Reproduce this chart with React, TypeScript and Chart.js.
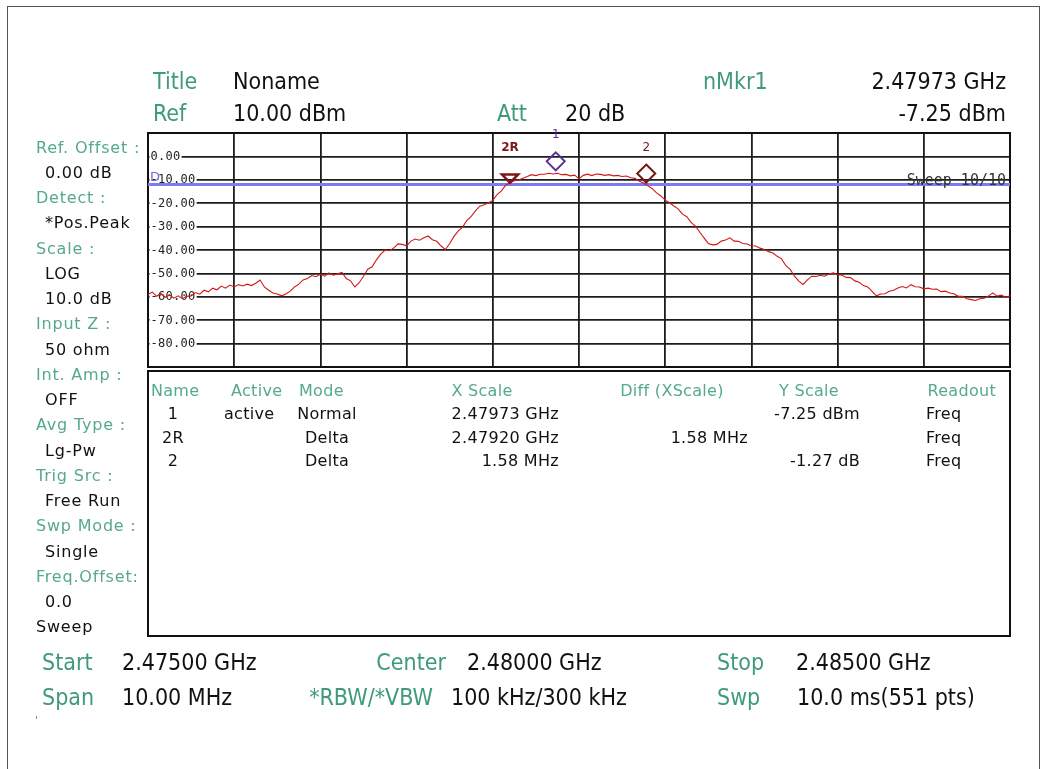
import React, { useEffect, useRef } from "react";
import { Chart, registerables } from "chart.js";

Chart.register(...registerables);

// ---------- chart data ----------
const START_MHZ = 2475;
const STOP_MHZ = 2485;
const STEP_MHZ = 0.05;
const REF_LEVEL_DBM = 10;
const BOTTOM_DBM = -90;
const DISPLAY_LINE_DBM = -12;

// trace levels (dBm) read every 0.05 MHz from 2475.00 to 2485.00 MHz
const TRACE_DBM = [
  -59, -58, -59.8, -58.6, -60.2, -59.2, -60.6, -59.6, -60.8, -59.8, -59.6, -58.2, -58.9, -57.2, -57.9, -56.3, -57, -55.4, -56.3, -55, -55.8,
  -54.8, -55.4, -54.6, -55.2, -54.2, -52.8, -55.8, -57.2, -58.4, -58.8, -59.6, -58.8, -57.6, -55.8, -54.6, -52.8, -52.2, -50.9, -51.4, -50.4,
  -51.2, -49.8, -50.8, -50.2, -49.6, -52.2, -53.2, -55.8, -54, -51.2, -48.2, -47.2, -44.2, -41.8, -40, -40.3, -39.2, -37.4, -37.6, -38.2,
  -36.2, -35.3, -35.8, -34.8, -34, -35.6, -36.3, -38.3, -39.8, -37.2, -34.2, -31.8, -30.2, -27.3, -25.6, -23.2, -21.3, -20.7, -19.8, -18.8,
  -16.3, -14.7, -12.3, -11.2, -10.4, -10.1, -9.3, -8.6, -7.8, -8.2, -7.6, -7.6, -7.2, -7.5, -7.2, -7.8, -7.7, -8.3, -8.0, -9.6,
  -8.1, -7.6, -8.2, -7.5, -7.7, -8.1, -7.8, -8.3, -8.1, -8.6, -8.4, -9.1, -9.4, -10.6, -11.4, -12.6, -13.8, -15.6, -16.9, -18.7,
  -19.8, -21.2, -22.4, -24.7, -25.8, -28.2, -29.8, -32.3, -34.8, -37.2, -37.8, -37.6, -36.2, -35.7, -34.8, -36.2, -36.3, -37.2, -37.4, -38.2,
  -38.3, -39.2, -39.8, -40.7, -41.3, -42.7, -43.8, -46.7, -48.3, -51.2, -53.3, -54.7, -52.8, -51.2, -51.3, -50.8, -51.2, -50.3, -49.8, -50.6,
  -50.8, -51.7, -51.8, -53.2, -53.8, -55.2, -55.8, -57.7, -59.6, -58.8, -58.7, -57.6, -57.2, -56.2, -55.6, -56.2, -54.8, -55.7, -55.8, -56.6,
  -56.3, -56.8, -56.7, -57.8, -57.6, -58.4, -58.7, -59.8, -59.8, -60.8, -61.2, -61.6, -60.8, -60.6, -59.7, -58.3, -59.7, -59.3, -60.2, -59.6,
];

const Y_TICK_VALUES = [0, -10, -20, -30, -40, -50, -60, -70, -80];
const Y_TICK_LABELS = ["0.00", "-10.00", "-20.00", "-30.00", "-40.00", "-50.00", "-60.00", "-70.00", "-80.00"];

const MARKER_NAMES = ["1", "2R", "2"];
const MARKER_FREQ_MHZ = [2479.73, 2479.2, 2480.78];
const MARKER_LEVEL_DBM = [-7.25, -11.2, -12.47];
const MARKER_SHAPES = ["diamond", "triangle", "diamond"];
const MARKER_COLORS = ["#5b2f93", "#7e1616", "#6e1a1a"];

const SWEEP_TEXT = "Sweep 10/10";

// ---------- text data ----------
const GREEN = "#3f9a7a";
const GREEN_LIGHT = "#56a98b";
const COND = '"Liberation Sans Narrow", "DejaVu Sans Condensed", "Liberation Sans", Arial, sans-serif';
const WIDE = '"DejaVu Sans", Verdana, sans-serif';

const LEFT_PANEL: [string, "L" | "V" | "B"][] = [
  ["Ref. Offset :", "L"], ["0.00 dB", "V"], ["Detect :", "L"], ["*Pos.Peak", "V"],
  ["Scale :", "L"], ["LOG", "V"], ["10.0 dB", "V"], ["Input Z :", "L"], ["50 ohm", "V"],
  ["Int. Amp :", "L"], ["OFF", "V"], ["Avg Type :", "L"], ["Lg-Pw", "V"],
  ["Trig Src :", "L"], ["Free Run", "V"], ["Swp Mode :", "L"], ["Single", "V"],
  ["Freq.Offset:", "L"], ["0.0", "V"], ["Sweep", "B"],
];

const TABLE_HEADERS = ["Name", "Active", "Mode", "X Scale", "Diff (XScale)", "Y Scale", "Readout"];
const TABLE_ROWS = [
  ["1", "active", "Normal", "2.47973 GHz", "", "-7.25 dBm", "Freq"],
  ["2R", "", "Delta", "2.47920 GHz", "1.58 MHz", "", "Freq"],
  ["2", "", "Delta", "1.58 MHz", "", "-1.27 dB", "Freq"],
];

type Align = "l" | "r" | "c";

function Txt(props: {
  t: string; x: number; y: number; a?: Align; color?: string; font: string; size: number; ls?: number; weight?: number;
}) {
  const { t, x, y, a = "l", color = "#111", font, size, ls = 0, weight = 400 } = props;
  const lh = Math.round(size * 1.3);
  const style: React.CSSProperties = {
    position: "absolute",
    top: y - lh / 2,
    whiteSpace: "nowrap",
    fontFamily: font,
    fontSize: size,
    lineHeight: `${lh}px`,
    color,
    letterSpacing: ls,
    fontWeight: weight,
  };
  if (a === "l") style.left = x;
  else if (a === "r") style.right = 1048 - x;
  else {
    style.left = x;
    style.transform = "translateX(-50%)";
  }
  return <div style={style}>{t}</div>;
}

const overlayPlugin = {
  id: "saOverlay",
  beforeDatasetsDraw(chart: any) {
    const { ctx, chartArea } = chart;
    const ys = chart.scales.y;
    ctx.save();
    ctx.strokeStyle = "#111";
    ctx.lineWidth = 2;
    ctx.strokeRect(chartArea.left, chartArea.top, chartArea.right - chartArea.left, chartArea.bottom - chartArea.top);
    ctx.font = '12px "DejaVu Sans Mono", monospace';
    (ctx as any).letterSpacing = "0.3px";
    ctx.textBaseline = "middle";
    Y_TICK_VALUES.forEach((v, i) => {
      const y = ys.getPixelForValue(v);
      const label = Y_TICK_LABELS[i];
      const w = ctx.measureText(label).width;
      ctx.fillStyle = "#fff";
      ctx.fillRect(chartArea.left + 1.5, y - 6, w + 2, 12);
      ctx.fillStyle = "#222";
      ctx.fillText(label, chartArea.left + 2.5, y + 0.5);
    });
    ctx.restore();
  },
  afterDatasetsDraw(chart: any) {
    const { ctx, chartArea } = chart;
    const xs = chart.scales.x;
    const ys = chart.scales.y;
    ctx.save();
    // display line tag and sweep text
    const dy = ys.getPixelForValue(DISPLAY_LINE_DBM);
    ctx.fillStyle = "#6b6bdc";
    ctx.font = '13px "DejaVu Sans", sans-serif';
    ctx.textBaseline = "alphabetic";
    ctx.fillText("D", chartArea.left + 2, dy - 3);
    ctx.fillStyle = "#333";
    ctx.font = '15px "DejaVu Sans Mono", monospace';
    ctx.textAlign = "right";
    ctx.fillText(SWEEP_TEXT, chartArea.right - 4, dy + 1);
    // markers
    MARKER_NAMES.forEach((name, i) => {
      const cx = xs.getPixelForValue(MARKER_FREQ_MHZ[i]);
      const py = ys.getPixelForValue(MARKER_LEVEL_DBM[i]);
      ctx.strokeStyle = MARKER_COLORS[i];
      ctx.fillStyle = MARKER_COLORS[i];
      ctx.lineWidth = 2;
      ctx.textAlign = "center";
      ctx.textBaseline = "middle";
      if (MARKER_SHAPES[i] === "diamond") {
        const cy = py - 12;
        ctx.beginPath();
        ctx.moveTo(cx, cy - 9);
        ctx.lineTo(cx + 9, cy);
        ctx.lineTo(cx, cy + 9);
        ctx.lineTo(cx - 9, cy);
        ctx.closePath();
        ctx.stroke();
        ctx.font = '12px "DejaVu Sans", sans-serif';
        ctx.fillText(name, cx, py - 38);
      } else {
        ctx.lineWidth = 2.5;
        ctx.beginPath();
        ctx.moveTo(cx - 8, py - 8);
        ctx.lineTo(cx + 8, py - 8);
        ctx.lineTo(cx, py);
        ctx.closePath();
        ctx.stroke();
        ctx.font = 'bold 12px "DejaVu Sans", sans-serif';
        ctx.fillText(name, cx, py - 35);
      }
    });
    ctx.restore();
  },
};

export default function App() {
  const canvasRef = useRef<HTMLCanvasElement>(null);

  useEffect(() => {
    const canvas = canvasRef.current;
    if (!canvas) return;
    const tracePoints = TRACE_DBM.map((v, i) => ({ x: START_MHZ + i * STEP_MHZ, y: v }));
    const chart = new Chart(canvas, {
      type: "line",
      data: {
        datasets: [
          {
            label: "Trace",
            data: tracePoints,
            borderColor: "#d01818",
            borderWidth: 1.1,
            pointRadius: 0,
            tension: 0,
            order: 1,
          },
          {
            label: "Display line",
            data: [
              { x: START_MHZ, y: DISPLAY_LINE_DBM },
              { x: STOP_MHZ, y: DISPLAY_LINE_DBM },
            ],
            borderColor: "#7c7cf0",
            borderWidth: 3,
            pointRadius: 0,
            order: 2,
          },
        ],
      },
      options: {
        animation: false,
        responsive: false,
        events: [],
        layout: { padding: { left: 148, top: 133, right: 38, bottom: 402 } },
        plugins: {
          legend: { display: false },
          tooltip: { enabled: false },
        },
        scales: {
          x: {
            type: "linear",
            min: START_MHZ,
            max: STOP_MHZ,
            ticks: { display: false, stepSize: 1 },
            grid: { color: "#1c1c1c", lineWidth: 1.8, drawTicks: false },
            border: { display: false },
          },
          y: {
            type: "linear",
            min: BOTTOM_DBM,
            max: REF_LEVEL_DBM,
            ticks: { display: false, stepSize: 10 },
            grid: { color: "#1c1c1c", lineWidth: 1.8, drawTicks: false },
            border: { display: false },
          },
        },
      },
      plugins: [overlayPlugin],
    });
    return () => chart.destroy();
  }, []);

  const leftY0 = 147;
  const leftStep = 25.26;
  const hdrSize = 23;
  const wideSize = 16;

  const tableHeaderX: [number, Align][] = [
    [151, "l"], [231, "l"], [299, "l"], [482, "c"], [672, "c"], [809, "c"], [996, "r"],
  ];
  const tableCellX: [number, Align][] = [
    [173, "c"], [224, "l"], [327, "c"], [559, "r"], [748, "r"], [860, "r"], [926, "l"],
  ];
  const rowY = [413.5, 437, 460.5];

  return (
    <div style={{ position: "absolute", left: 0, top: 0, width: 1048, height: 769, background: "#fff", overflow: "hidden" }}>
      <canvas ref={canvasRef} width={1048} height={769} style={{ position: "absolute", left: 0, top: 0 }} />
      <div style={{ position: "absolute", left: 7, top: 6, width: 1033, height: 800, border: "1px solid #555", boxSizing: "border-box" }} />
      <div style={{ position: "absolute", left: 147, top: 370, width: 864, height: 267, border: "2px solid #111", boxSizing: "border-box" }} />
      <div style={{ position: "absolute", left: 36, top: 716, width: 1, height: 3, background: "#888" }} />

      {/* header */}
      <Txt t="Title" x={153} y={81} color={GREEN} font={COND} size={hdrSize} />
      <Txt t="Noname" x={233} y={81} font={COND} size={hdrSize} />
      <Txt t="nMkr1" x={703} y={81} color={GREEN} font={COND} size={hdrSize} />
      <Txt t="2.47973 GHz" x={1006} y={81} a="r" font={COND} size={hdrSize} />
      <Txt t="Ref" x={153} y={113} color={GREEN} font={COND} size={hdrSize} />
      <Txt t="10.00 dBm" x={233} y={113} font={COND} size={hdrSize} />
      <Txt t="Att" x={497} y={113} color={GREEN} font={COND} size={hdrSize} />
      <Txt t="20 dB" x={565} y={113} font={COND} size={hdrSize} />
      <Txt t="-7.25 dBm" x={1006} y={113} a="r" font={COND} size={hdrSize} />

      {/* left panel */}
      {LEFT_PANEL.map(([t, k], i) => (
        <Txt
          key={i}
          t={t}
          x={k === "V" ? 45 : 36}
          y={leftY0 + i * leftStep}
          color={k === "L" ? GREEN_LIGHT : "#111"}
          font={WIDE}
          size={wideSize}
          ls={0.8}
        />
      ))}

      {/* marker table */}
      {TABLE_HEADERS.map((t, i) => (
        <Txt key={"h" + i} t={t} x={tableHeaderX[i][0]} a={tableHeaderX[i][1]} y={390} color={GREEN_LIGHT} font={WIDE} size={wideSize} ls={0.3} />
      ))}
      {TABLE_ROWS.map((row, r) =>
        row.map((t, c) =>
          t ? (
            <Txt key={`c${r}-${c}`} t={t} x={tableCellX[c][0]} a={tableCellX[c][1]} y={rowY[r]} font={WIDE} size={wideSize} ls={0.3} />
          ) : null
        )
      )}

      {/* bottom */}
      <Txt t="Start" x={42} y={662} color={GREEN} font={COND} size={hdrSize} />
      <Txt t="2.47500 GHz" x={122} y={662} font={COND} size={hdrSize} />
      <Txt t="Center" x={446} y={662} a="r" color={GREEN} font={COND} size={hdrSize} />
      <Txt t="2.48000 GHz" x={467} y={662} font={COND} size={hdrSize} />
      <Txt t="Stop" x={717} y={662} color={GREEN} font={COND} size={hdrSize} />
      <Txt t="2.48500 GHz" x={796} y={662} font={COND} size={hdrSize} />
      <Txt t="Span" x={42} y={697} color={GREEN} font={COND} size={hdrSize} />
      <Txt t="10.00 MHz" x={122} y={697} font={COND} size={hdrSize} />
      <Txt t="*RBW/*VBW" x={433} y={697} a="r" color={GREEN} font={COND} size={hdrSize} />
      <Txt t="100 kHz/300 kHz" x={451} y={697} font={COND} size={hdrSize} />
      <Txt t="Swp" x={717} y={697} color={GREEN} font={COND} size={hdrSize} />
      <Txt t="10.0 ms(551 pts)" x={797} y={697} font={COND} size={hdrSize} />
    </div>
  );
}
